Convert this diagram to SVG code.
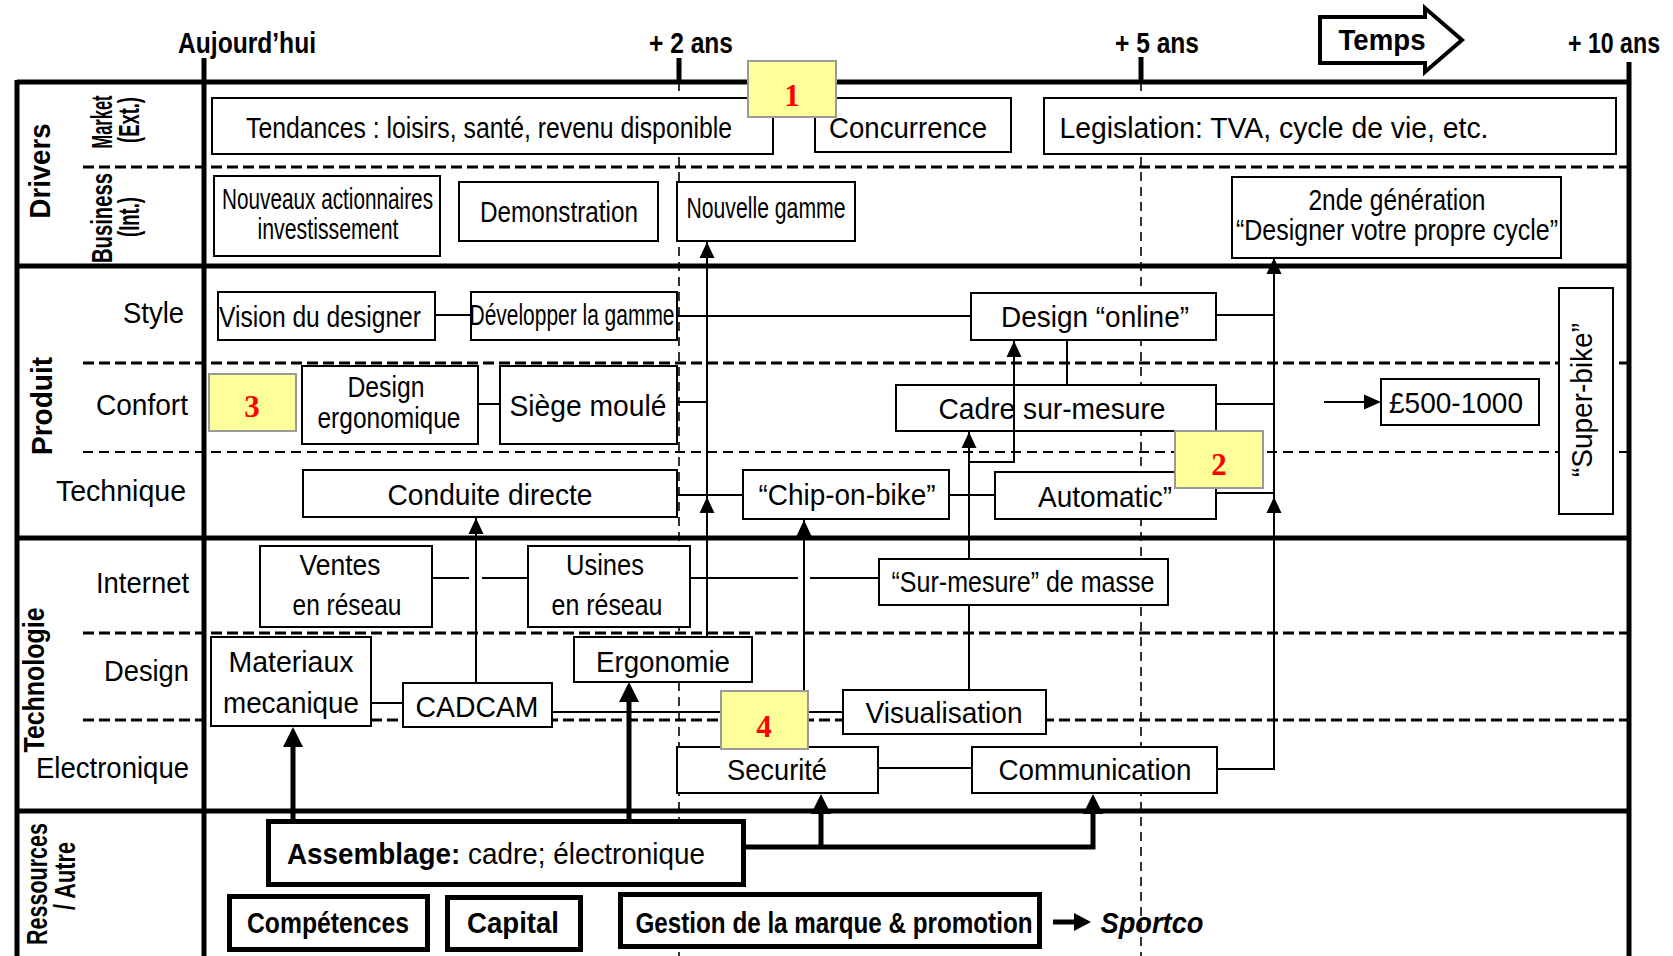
<svg xmlns="http://www.w3.org/2000/svg" width="1673" height="956" viewBox="0 0 1673 956">
  <style>
    .t { font-family: "Liberation Sans Narrow", "Liberation Sans", Arial, sans-serif; font-size: 29px; fill: #000; text-anchor: middle; }
    .e { text-anchor: end; }
    .s { text-anchor: start; }
    .b { font-weight: bold; }
    .i { font-style: italic; }
    .box { fill: #fff; stroke: #000; stroke-width: 2; }
    .tbox { fill: #fff; stroke: #000; stroke-width: 5; }
    .note { fill: #ffff99; stroke: #9a9a9a; stroke-width: 2; }
    .num { font-family: "Liberation Serif", "Times New Roman", serif; font-weight: bold; font-size: 31px; fill: #ff0000; text-anchor: middle; }
    .frame { stroke: #000; stroke-width: 5; fill: none; }
    .dk { stroke: #000; stroke-width: 3; stroke-dasharray: 11 5; fill: none; }
    .dt { stroke: #000; stroke-width: 2; stroke-dasharray: 10 6; fill: none; }
    .vd { stroke: #000; stroke-width: 1.6; stroke-dasharray: 9 6; fill: none; }
    .ln { stroke: #000; stroke-width: 2; fill: none; }
    .thk { stroke: #000; stroke-width: 5; fill: none; }
  </style>
  <defs>
    <!-- arrowheads, tip at the origin, pointing up -->
    <path id="ah" d="M0,0 L-7.5,16 L7.5,16 Z" fill="#000"/>
    <path id="ahT" d="M0,0 L-10,20 L10,20 Z" fill="#000"/>
  </defs>

  <rect x="0" y="0" width="1673" height="956" fill="#fff"/>

  <!-- time scale -->
  <g id="timescale">
    <text class="t b" x="247" y="53" font-size="28" textLength="138" lengthAdjust="spacingAndGlyphs">Aujourd’hui</text>
    <text class="t b" x="691" y="53" font-size="28" textLength="84" lengthAdjust="spacingAndGlyphs">+ 2 ans</text>
    <text class="t b" x="1157" y="53" font-size="28" textLength="84" lengthAdjust="spacingAndGlyphs">+ 5 ans</text>
    <text class="t b e" x="1660" y="53" font-size="27" text-anchor="end" textLength="92" lengthAdjust="spacingAndGlyphs">+ 10 ans</text>
    <polygon points="1320,17 1425,17 1425,8 1462,40 1425,72 1425,63 1320,63" fill="#fff" stroke="#000" stroke-width="4" stroke-linejoin="miter"/>
    <text class="t b" x="1382" y="50" font-size="31" textLength="87" lengthAdjust="spacingAndGlyphs">Temps</text>
  </g>

  <!-- grid: row separators and time lines -->
  <g id="grid">
    <line class="vd" x1="679" y1="82" x2="679" y2="956"/>
    <line class="vd" x1="1141" y1="82" x2="1141" y2="956"/>
    <line class="dk" x1="83" y1="167" x2="1627" y2="167"/>
    <line class="dk" x1="83" y1="363" x2="1627" y2="363"/>
    <line class="dt" x1="83" y1="452" x2="1627" y2="452"/>
    <line class="dk" x1="83" y1="633" x2="1627" y2="633"/>
    <line class="dk" x1="83" y1="720" x2="1627" y2="720"/>
    <path class="frame" d="M17,82 H1629 M17,80 V956 M204,58 V956 M1629,62 V956 M17,266 H1629 M17,538 H1629 M17,811 H1629 M679,58 V82 M1141,57 V82"/>
  </g>

  <!-- row labels -->
  <g id="labels">
    <text class="t b" transform="translate(50,171) rotate(-90)" font-size="32" textLength="95" lengthAdjust="spacingAndGlyphs">Drivers</text>
    <text class="t b" transform="translate(112,122) rotate(-90)" font-size="21" textLength="53" lengthAdjust="spacingAndGlyphs">Market</text>
    <text class="t b" transform="translate(139,120) rotate(-90)" font-size="21" textLength="46" lengthAdjust="spacingAndGlyphs">(Ext.)</text>
    <text class="t b" transform="translate(112,218) rotate(-90)" font-size="21" textLength="90" lengthAdjust="spacingAndGlyphs">Business</text>
    <text class="t b" transform="translate(139,217) rotate(-90)" font-size="21" textLength="40" lengthAdjust="spacingAndGlyphs">(Int.)</text>
    <text class="t b" transform="translate(52,406) rotate(-90)" font-size="32" textLength="98" lengthAdjust="spacingAndGlyphs">Produit</text>
    <text class="t b" transform="translate(44,680) rotate(-90)" font-size="30" textLength="145" lengthAdjust="spacingAndGlyphs">Technologie</text>
    <text class="t b" transform="translate(47,884) rotate(-90)" font-size="26" textLength="122" lengthAdjust="spacingAndGlyphs">Ressources</text>
    <text class="t b" transform="translate(75,876) rotate(-90)" font-size="26" textLength="68" lengthAdjust="spacingAndGlyphs">/ Autre</text>
    <text class="t e" x="184" y="323" font-size="30" textLength="61" lengthAdjust="spacingAndGlyphs">Style</text>
    <text class="t e" x="188" y="415" font-size="30" textLength="92" lengthAdjust="spacingAndGlyphs">Confort</text>
    <text class="t e" x="186" y="501" font-size="30" textLength="130" lengthAdjust="spacingAndGlyphs">Technique</text>
    <text class="t e" x="189" y="593" font-size="30" textLength="93" lengthAdjust="spacingAndGlyphs">Internet</text>
    <text class="t e" x="189" y="681" font-size="30" textLength="85" lengthAdjust="spacingAndGlyphs">Design</text>
    <text class="t e" x="189" y="778" font-size="30" textLength="153" lengthAdjust="spacingAndGlyphs">Electronique</text>
  </g>

  <!-- Drivers -->
  <g id="n-tendances">
    <rect class="box" x="212" y="98" width="561" height="56"/>
    <text class="t" x="489" y="138" textLength="486" lengthAdjust="spacingAndGlyphs">Tendances : loisirs, santé, revenu disponible</text>
  </g>
  <g id="n-concurrence">
    <rect class="box" x="815" y="98" width="196" height="54"/>
    <text class="t" x="908" y="138" textLength="158" lengthAdjust="spacingAndGlyphs">Concurrence</text>
  </g>
  <g id="n-legislation">
    <rect class="box" x="1044" y="98" width="572" height="56"/>
    <text class="t" x="1274" y="138" textLength="429" lengthAdjust="spacingAndGlyphs">Legislation: TVA, cycle de vie, etc.</text>
  </g>
  <g id="n-actionnaires">
    <rect class="box" x="214" y="176" width="226" height="80"/>
    <text class="t e" x="433" y="209" font-size="21" text-anchor="end" textLength="211" lengthAdjust="spacingAndGlyphs">Nouveaux actionnaires</text>
    <text class="t" x="328" y="239" font-size="21" textLength="141" lengthAdjust="spacingAndGlyphs">investissement</text>
  </g>
  <g id="n-demonstration">
    <rect class="box" x="459" y="182" width="199" height="59"/>
    <text class="t s" x="480" y="222" font-size="27" text-anchor="start" textLength="158" lengthAdjust="spacingAndGlyphs">Demonstration</text>
  </g>
  <g id="n-nouvelle-gamme">
    <rect class="box" x="677" y="182" width="178" height="59"/>
    <text class="t" x="766" y="218" font-size="21" textLength="159" lengthAdjust="spacingAndGlyphs">Nouvelle gamme</text>
  </g>
  <g id="n-seconde-generation">
    <rect class="box" x="1232" y="177" width="329" height="81"/>
    <text class="t" x="1397" y="210" font-size="27" textLength="177" lengthAdjust="spacingAndGlyphs">2nde génération</text>
    <text class="t" x="1397" y="240" font-size="27" textLength="322" lengthAdjust="spacingAndGlyphs">“Designer votre propre cycle”</text>
  </g>

  <!-- Produit -->
  <g id="n-vision">
    <rect class="box" x="218" y="292" width="217" height="48"/>
    <text class="t" x="320" y="327" textLength="202" lengthAdjust="spacingAndGlyphs">Vision du designer</text>
  </g>
  <g id="n-developper">
    <rect class="box" x="471" y="292" width="206" height="48"/>
    <text class="t" x="572" y="325" font-size="22" textLength="205" lengthAdjust="spacingAndGlyphs">Développer la gamme</text>
  </g>
  <g id="n-design-online">
    <rect class="box" x="971" y="293" width="245" height="47"/>
    <text class="t" x="1095" y="327" textLength="188" lengthAdjust="spacingAndGlyphs">Design “online”</text>
  </g>
  <g id="n-design-ergonomique">
    <rect class="box" x="302" y="366" width="176" height="78"/>
    <text class="t" x="386" y="397" font-size="28" textLength="77" lengthAdjust="spacingAndGlyphs">Design</text>
    <text class="t" x="389" y="428" font-size="28" textLength="143" lengthAdjust="spacingAndGlyphs">ergonomique</text>
  </g>
  <g id="n-siege">
    <rect class="box" x="500" y="366" width="177" height="78"/>
    <text class="t" x="588" y="416" textLength="157" lengthAdjust="spacingAndGlyphs">Siège moulé</text>
  </g>
  <g id="n-cadre">
    <rect class="box" x="896" y="385" width="320" height="46"/>
    <text class="t" x="1052" y="419" textLength="227" lengthAdjust="spacingAndGlyphs">Cadre sur-mesure</text>
  </g>
  <g id="n-prix">
    <rect class="box" x="1381" y="379" width="158" height="46"/>
    <text class="t" x="1456" y="413" textLength="134" lengthAdjust="spacingAndGlyphs">£500-1000</text>
  </g>
  <g id="n-superbike">
    <rect class="box" x="1559" y="288" width="54" height="226"/>
    <text class="t" transform="translate(1592,400) rotate(-90)" font-size="30" textLength="154" lengthAdjust="spacingAndGlyphs">“Super-bike”</text>
  </g>
  <g id="n-conduite">
    <rect class="box" x="303" y="470" width="374" height="47"/>
    <text class="t" x="490" y="505" textLength="205" lengthAdjust="spacingAndGlyphs">Conduite directe</text>
  </g>
  <g id="n-chip">
    <rect class="box" x="743" y="470" width="206" height="49"/>
    <text class="t" x="847" y="505" textLength="177" lengthAdjust="spacingAndGlyphs">“Chip-on-bike”</text>
  </g>
  <g id="n-automatic">
    <rect class="box" x="995" y="472" width="221" height="47"/>
    <text class="t" x="1105" y="507" textLength="134" lengthAdjust="spacingAndGlyphs">Automatic”</text>
  </g>

  <!-- Technologie -->
  <g id="n-ventes">
    <rect class="box" x="260" y="546" width="172" height="81"/>
    <text class="t" x="340" y="575" font-size="28" textLength="81" lengthAdjust="spacingAndGlyphs">Ventes</text>
    <text class="t" x="347" y="615" font-size="28" textLength="109" lengthAdjust="spacingAndGlyphs">en réseau</text>
  </g>
  <g id="n-usines">
    <rect class="box" x="528" y="546" width="162" height="81"/>
    <text class="t" x="605" y="575" font-size="28" textLength="78" lengthAdjust="spacingAndGlyphs">Usines</text>
    <text class="t" x="607" y="615" font-size="28" textLength="111" lengthAdjust="spacingAndGlyphs">en réseau</text>
  </g>
  <g id="n-sur-mesure-masse">
    <rect class="box" x="879" y="559" width="289" height="46"/>
    <text class="t" x="1023" y="592" font-size="27" textLength="263" lengthAdjust="spacingAndGlyphs">“Sur-mesure” de masse</text>
  </g>
  <g id="n-materiaux">
    <rect class="box" x="211" y="637" width="160" height="89"/>
    <text class="t" x="291" y="672" textLength="125" lengthAdjust="spacingAndGlyphs">Materiaux</text>
    <text class="t" x="291" y="713" textLength="136" lengthAdjust="spacingAndGlyphs">mecanique</text>
  </g>
  <g id="n-ergonomie">
    <rect class="box" x="574" y="637" width="178" height="45"/>
    <text class="t" x="663" y="672" textLength="134" lengthAdjust="spacingAndGlyphs">Ergonomie</text>
  </g>
  <g id="n-cadcam">
    <rect class="box" x="403" y="683" width="149" height="44"/>
    <text class="t" x="477" y="717" textLength="123" lengthAdjust="spacingAndGlyphs">CADCAM</text>
  </g>
  <g id="n-visualisation">
    <rect class="box" x="843" y="690" width="203" height="44"/>
    <text class="t" x="944" y="723" textLength="157" lengthAdjust="spacingAndGlyphs">Visualisation</text>
  </g>
  <g id="n-securite">
    <rect class="box" x="677" y="747" width="201" height="46"/>
    <text class="t" x="777" y="780" textLength="100" lengthAdjust="spacingAndGlyphs">Securité</text>
  </g>
  <g id="n-communication">
    <rect class="box" x="972" y="747" width="245" height="46"/>
    <text class="t" x="1095" y="780" textLength="193" lengthAdjust="spacingAndGlyphs">Communication</text>
  </g>

  <!-- Ressources / Autre -->
  <g id="n-assemblage">
    <rect class="tbox" x="268.5" y="821.5" width="475" height="63"/>
    <text class="t" x="496" y="864" font-size="30" textLength="418" lengthAdjust="spacingAndGlyphs"><tspan font-weight="bold">Assemblage:</tspan> cadre; électronique</text>
  </g>
  <g id="n-competences">
    <rect class="tbox" x="229.5" y="896.5" width="198" height="53"/>
    <text class="t b" x="328" y="933" textLength="162" lengthAdjust="spacingAndGlyphs">Compétences</text>
  </g>
  <g id="n-capital">
    <rect class="tbox" x="447.5" y="897.5" width="133" height="52"/>
    <text class="t b" x="513" y="933" font-size="30" textLength="92" lengthAdjust="spacingAndGlyphs">Capital</text>
  </g>
  <g id="n-gestion">
    <rect class="tbox" x="620.5" y="894.5" width="419" height="52"/>
    <text class="t b" x="834" y="933" font-size="26" textLength="397" lengthAdjust="spacingAndGlyphs">Gestion de la marque &amp; promotion</text>
  </g>
  <g id="n-sportco">
    <text class="t b i" x="1152" y="933" font-size="28" textLength="103" lengthAdjust="spacingAndGlyphs">Sportco</text>
  </g>

  <!-- connectors, drawn over the boxes they pass through -->
  <g id="connectors">
    <path class="ln" d="M435,315 H471"/>
    <path class="ln" d="M677,316 H971"/>
    <path class="ln" d="M478,404 H500"/>
    <path class="ln" d="M677,402 H707"/>
    <path class="ln" d="M707,241 V637"/>
    <path class="ln" d="M677,495 H743"/>
    <path class="ln" d="M949,495 H995"/>
    <path class="ln" d="M1014,341 V462 H969"/>
    <path class="ln" d="M969,431 V559"/>
    <path class="ln" d="M969,605 V690"/>
    <path class="ln" d="M1067,340 V385"/>
    <path class="ln" d="M1216,315 H1274"/>
    <path class="ln" d="M1216,404 H1274"/>
    <path class="ln" d="M1216,493 H1274"/>
    <path class="ln" d="M1217,769 H1274 V258"/>
    <path class="ln" d="M476,517 V683"/>
    <path class="ln" d="M804,519 V747"/>
    <path class="ln" d="M432,578 H469 M482,578 H528"/>
    <path class="ln" d="M690,578 H798 M810,578 H879"/>
    <path class="ln" d="M371,703 H403"/>
    <path class="ln" d="M552,712 H843"/>
    <path class="ln" d="M878,768 H972"/>
    <path class="ln" d="M1324,402 H1368"/>
    <use href="#ah" x="707" y="242"/>
    <use href="#ah" x="707" y="497"/>
    <use href="#ah" x="1274" y="258"/>
    <use href="#ah" x="1274" y="497"/>
    <use href="#ah" x="476" y="518"/>
    <use href="#ah" x="804" y="520"/>
    <use href="#ah" x="969" y="432"/>
    <use href="#ah" x="1014" y="341"/>
    <path d="M1381,402 L1364,394.5 L1364,409.5 Z" fill="#000"/>
    <path class="thk" d="M293,820 V742"/>
    <path class="thk" d="M629,820 V697"/>
    <path class="thk" d="M746,847 H1093 V808"/>
    <path class="thk" d="M821,847 V808"/>
    <path class="thk" d="M1053,922 H1078"/>
    <use href="#ahT" x="293" y="727"/>
    <use href="#ahT" x="629" y="682"/>
    <use href="#ahT" x="821" y="794"/>
    <use href="#ahT" x="1093" y="794"/>
    <path d="M1091,922 L1074,913 L1074,931 Z" fill="#000"/>
  </g>

  <!-- numbered callouts -->
  <g id="note-1">
    <rect class="note" x="748" y="61" width="88" height="56"/>
    <text class="num" x="792" y="106">1</text>
  </g>
  <g id="note-2">
    <rect class="note" x="1175" y="431" width="88" height="57"/>
    <text class="num" x="1219" y="475">2</text>
  </g>
  <g id="note-3">
    <rect class="note" x="209" y="374" width="87" height="57"/>
    <text class="num" x="252" y="417">3</text>
  </g>
  <g id="note-4">
    <rect class="note" x="721" y="691" width="87" height="58"/>
    <text class="num" x="764" y="737">4</text>
  </g>
</svg>
